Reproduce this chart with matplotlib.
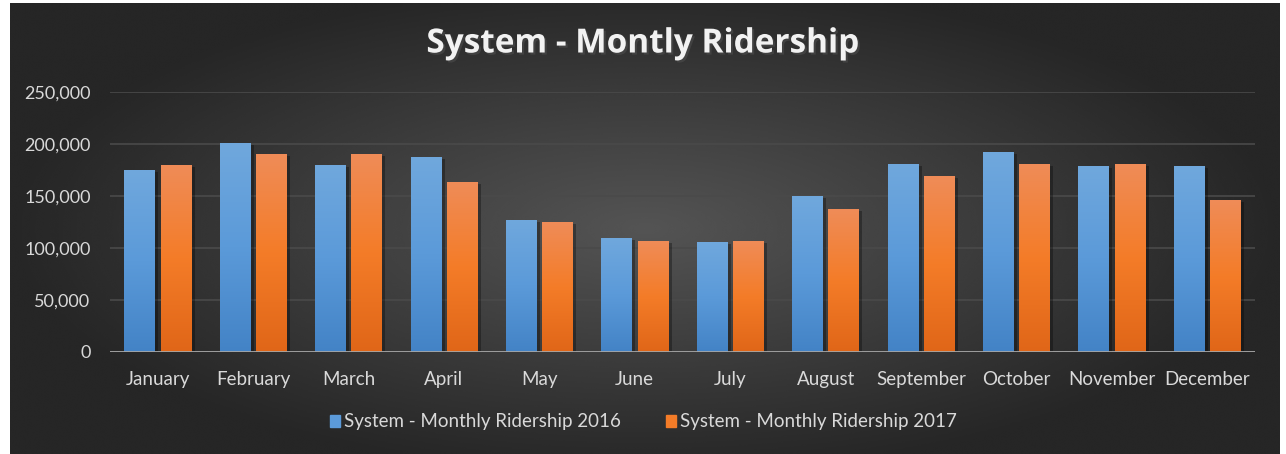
import numpy as np
import matplotlib
matplotlib.use("Agg")
import matplotlib.pyplot as plt
import matplotlib.patheffects as pe
from matplotlib.patches import Patch
from matplotlib.ticker import FuncFormatter

plt.rcParams['font.family'] = ['Lato', 'DejaVu Sans']

months = ['January', 'February', 'March', 'April', 'May', 'June',
          'July', 'August', 'September', 'October', 'November', 'December']
riders_2016 = [175000, 201000, 180000, 187500, 127000, 110000,
               106000, 150000, 181000, 192000, 179000, 179000]
riders_2017 = [180000, 190500, 190500, 163500, 125000, 107000,
               107000, 137500, 169000, 181000, 181000, 146000]
series_names = ['System - Monthly Ridership 2016', 'System - Monthly Ridership 2017']

W, H = 1286, 454
fig = plt.figure(figsize=(W / 100, H / 100), dpi=100, facecolor='white')

# dark radial gradient background
bg = fig.add_axes([10 / W, 0, 1270 / W, 451 / H])
yy, xx = np.mgrid[-1:1:300j, -1:1:800j]
r = np.sqrt((xx / 1.0) ** 2 + (yy / 1.1) ** 2)
shade = np.clip(0.33 - 0.18 * r, 0.15, 0.35)
bg.imshow(shade, cmap='gray', vmin=0, vmax=1, aspect='auto', interpolation='bicubic')
bg.set_axis_off()

ax = fig.add_axes([110 / W, 1 - 352 / H, 1145 / W, 260 / H])
ax.patch.set_alpha(0)

x = np.arange(len(months))
width = 0.32
off = 0.19

blue_grad = ['#4383c6', '#5b9ad9', '#70a8dd']
orange_grad = ['#e06618', '#f47c28', '#ef8c58']


def gradient_bars(bars, colors):
    cmap = matplotlib.colors.LinearSegmentedColormap.from_list('g', colors)
    grad = np.linspace(0, 1, 256).reshape(-1, 1)
    for b in bars:
        x0, y0 = b.get_x(), b.get_y()
        im = ax.imshow(grad, cmap=cmap, aspect='auto', origin='lower',
                       extent=[x0, x0 + b.get_width(), y0, y0 + b.get_height()],
                       zorder=3)
        im.set_clip_path(b)


shadow = [pe.SimplePatchShadow(offset=(2.5, -1.5), shadow_rgbFace='black', alpha=0.3), pe.Normal()]
b1 = ax.bar(x - off, riders_2016, width, color=blue_grad[1], zorder=2, path_effects=shadow)
b2 = ax.bar(x + off, riders_2017, width, color=orange_grad[1], zorder=2, path_effects=shadow)
gradient_bars(b1, blue_grad)
gradient_bars(b2, orange_grad)

ax.set_xlim(-0.5, len(months) - 0.5)
ax.set_ylim(0, 250000)
ax.set_yticks(np.arange(0, 250001, 50000))
ax.yaxis.set_major_formatter(FuncFormatter(lambda v, p: f'{int(v):,}'))
ax.grid(axis='y', color='#4a4a4a', linewidth=1.2, zorder=0)
ax.axhline(0, color='#a6a6a6', linewidth=2, zorder=4)
for s in ax.spines.values():
    s.set_visible(False)
ax.set_xticks(x)
ax.set_xticklabels(months)
ax.tick_params(axis='both', length=0, colors='#d9d9d9', labelsize=13.5)
ax.tick_params(axis='x', pad=14)
ax.tick_params(axis='y', pad=14, labelsize=13)

fig.text(0.5, 1 - 44 / H, 'System - Montly Ridership', ha='center', va='center',
         fontsize=24, fontweight='bold', color='#f2f2f2', family=['Open Sans', 'DejaVu Sans'],
         path_effects=[pe.withSimplePatchShadow(offset=(1.5, -1.5), alpha=0.7)])

handles = [Patch(color=blue_grad[1]), Patch(color=orange_grad[1])]
fig.legend(handles, series_names, loc='center', bbox_to_anchor=(0.5, 1 - 422 / H),
           ncol=2, frameon=False, fontsize=13.5, labelcolor='#d9d9d9',
           handlelength=0.55, handleheight=0.6, handletextpad=0.2, columnspacing=2.4)

fig.savefig('out.png', dpi=100, facecolor='white')
